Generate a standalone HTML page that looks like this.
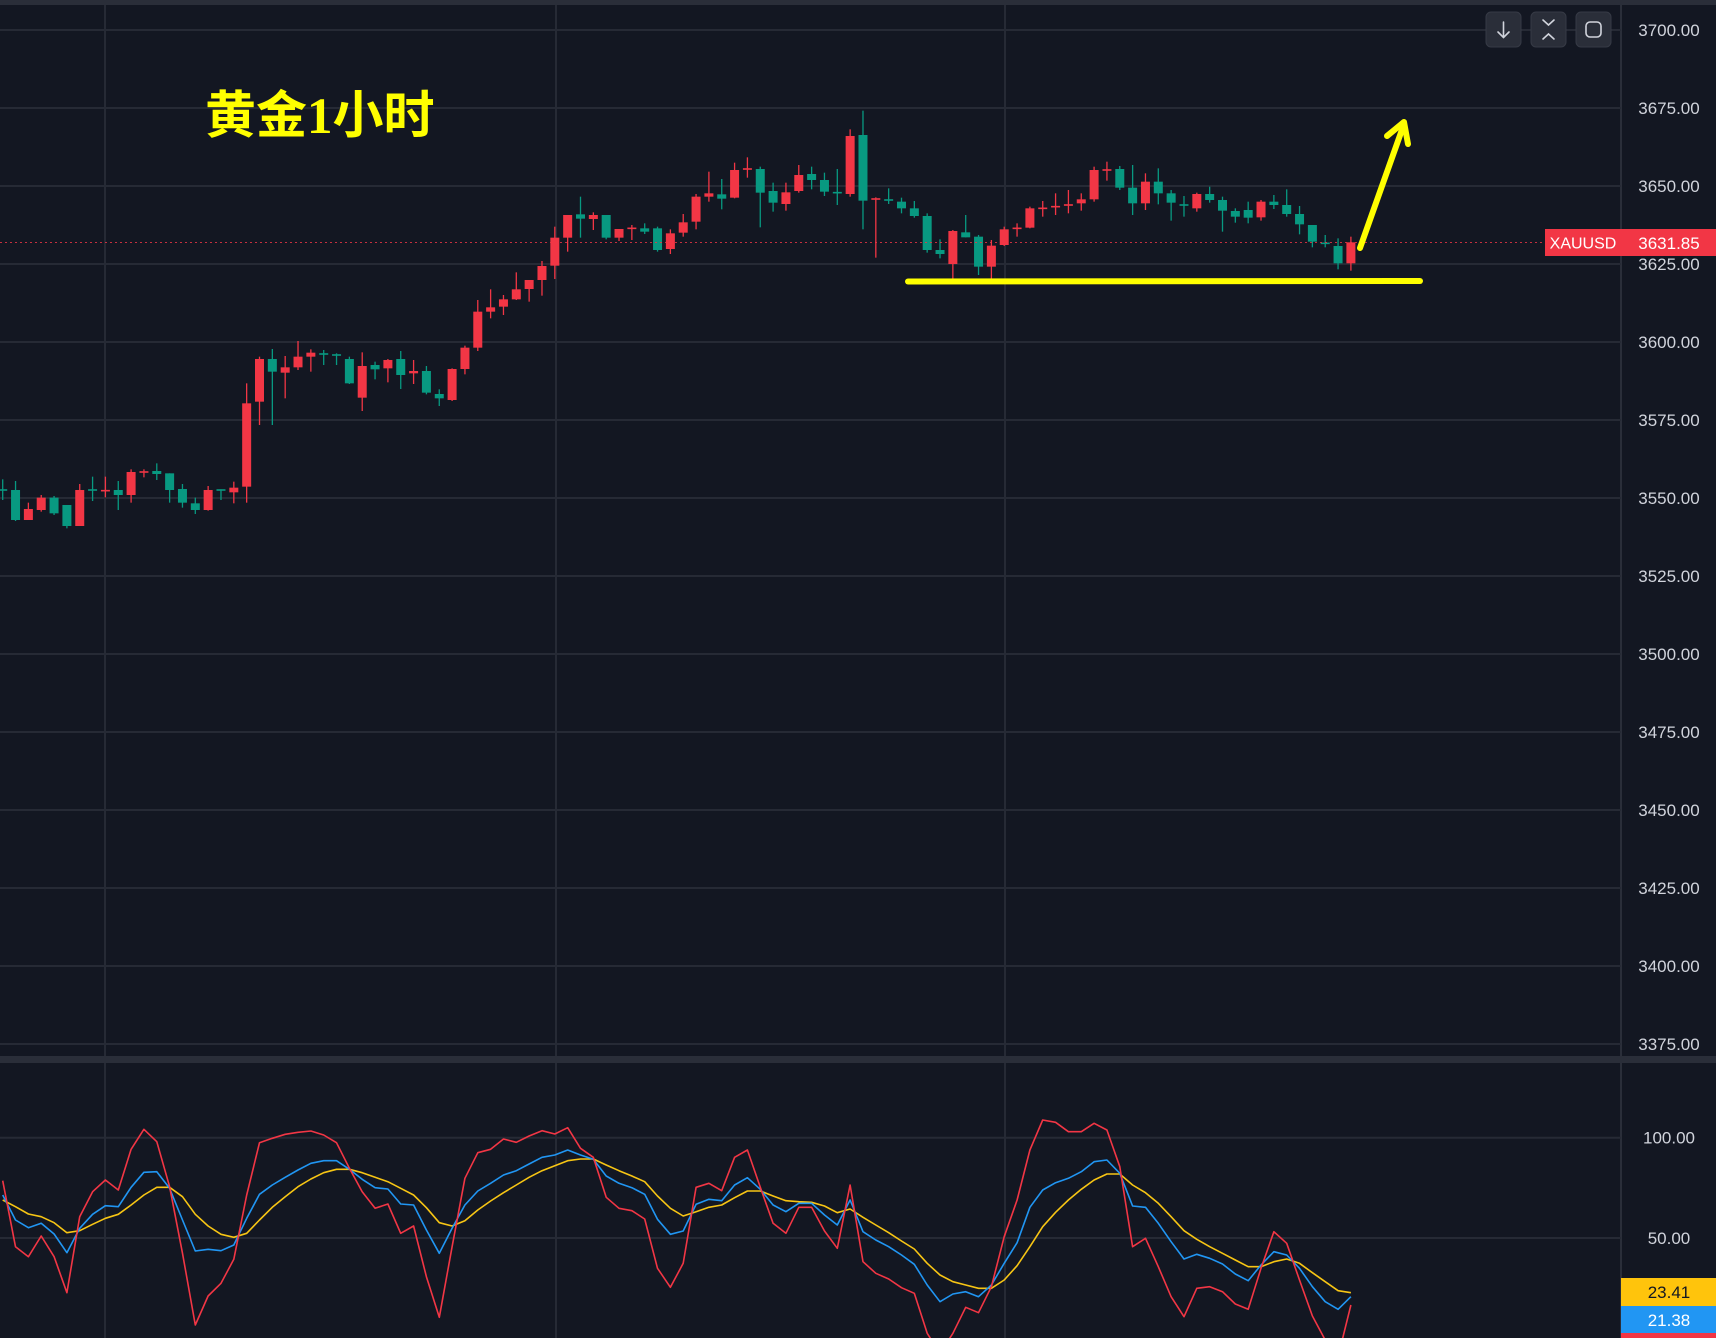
<!DOCTYPE html>
<html><head><meta charset="utf-8"><style>
html,body{margin:0;padding:0;background:#131722;}
svg{display:block}
</style></head><body>
<svg id="s" width="1716" height="1338" xmlns="http://www.w3.org/2000/svg" font-family="Liberation Sans, sans-serif">
<rect width="1716" height="1338" fill="#131722"/>
<rect x="0" y="0" width="1716" height="5" fill="#2a2e39"/>
<rect x="0" y="1056" width="1716" height="7" fill="#2a2e39"/>
<line x1="1621" y1="5" x2="1621" y2="1338" stroke="#2a2e39" stroke-width="2"/>
<g id="grid" stroke="#262a35" stroke-width="2"></g>
<g id="candles"></g>
<line x1="0" y1="242.5" x2="1621" y2="242.5" stroke="#f23645" stroke-width="1" stroke-dasharray="2,3" opacity="0.8"/>
<g id="rsi" fill="none" stroke-width="1.6" stroke-linejoin="round"></g>
<text x="205" y="133" font-family="Liberation Serif, 'Noto Sans CJK SC', sans-serif" font-weight="bold" font-size="51" fill="#ffff00">黄金1小时</text>
<g stroke="#ffff00" stroke-width="6" stroke-linecap="round" fill="none">
<line x1="908" y1="281.5" x2="1420" y2="281"/>
<line x1="1360" y1="248" x2="1404" y2="124"/>
<polyline points="1387,136 1404,122 1408,144" stroke-linejoin="round"/>
</g>
<g id="axis" font-size="17" fill="#d1d4dc"></g>
<rect x="1545" y="229" width="76" height="27" fill="#f23645"/>
<text x="1583" y="248.5" font-size="16" fill="#fff" text-anchor="middle">XAUUSD</text>
<rect x="1621" y="229" width="95" height="27" fill="#f23645"/>
<text x="1669" y="249" font-size="17" fill="#fff" text-anchor="middle">3631.85</text>
<rect x="1621" y="1278" width="95" height="28" fill="#ffc40c"/>
<text x="1669" y="1298" font-size="17" fill="#131722" text-anchor="middle">23.41</text>
<rect x="1621" y="1306" width="95" height="27" fill="#2196f3"/>
<text x="1669" y="1326" font-size="17" fill="#fff" text-anchor="middle">21.38</text>
<rect x="1621" y="1333" width="95" height="5" fill="#f23645"/>
<g fill="#2a2e39" stroke="#363a45">
<rect x="1486" y="12" width="35" height="35" rx="5"/>
<rect x="1531" y="12" width="35" height="35" rx="5"/>
<rect x="1576" y="12" width="35" height="35" rx="5"/>
</g>
<g stroke="#d1d4dc" stroke-width="1.6" fill="none" stroke-linecap="round">
<line x1="1503.5" y1="22" x2="1503.5" y2="37"/><polyline points="1498,32 1503.5,37.5 1509,32"/>
<polyline points="1543,20 1548.5,25 1554,20"/><polyline points="1543,39 1548.5,34 1554,39"/>
<rect x="1586" y="22" width="15" height="15" rx="4"/>
</g>
</svg>
<script>
const NS="http://www.w3.org/2000/svg";
function el(p,t,a){const e=document.createElementNS(NS,t);for(const k in a)e.setAttribute(k,a[k]);p.appendChild(e);return e;}
const grid=document.getElementById('grid');
for(let i=0;i<14;i++){const y=30+i*78;el(grid,'line',{x1:0,y1:y,x2:1621,y2:y});}
[1137.7,1238].forEach(y=>el(grid,'line',{x1:0,y1:y,x2:1621,y2:y}));
[105,556,1005].forEach(x=>{el(grid,'line',{x1:x,y1:5,x2:x,y2:1056});el(grid,'line',{x1:x,y1:1063,x2:x,y2:1338});});
const ax=document.getElementById('axis');
for(let i=0;i<14;i++){const v=3700-25*i;if(v===3625)continue;const t=el(ax,'text',{x:1669,y:30+i*78+6,'text-anchor':'middle'});t.textContent=v.toFixed(2);}
{const t=el(ax,'text',{x:1669,y:270,'text-anchor':'middle'});t.textContent='3625.00';}
[[1137.7,'100.00'],[1238,'50.00']].forEach(([y,s])=>{const t=el(ax,'text',{x:1669,y:y+6,'text-anchor':'middle'});t.textContent=s;});
const A=`g 509 511 478 540
g 510 600 483 603
r 567 600 548 600
r 533 570 525 575
g 533 580 528 585
g 555 618 555 625
r 510 618 492 618
g 509 511 470 543
r 511 513 470 532
g 510 525 483 570
r 456 525 448 548
r 455 457 448 472
g 453 462 430 480
g 460 510 460 548
g 507 548 492 563
g 550 570 533 582
r 510 570 498 572
g 509 511 508 540
r 503 517 485 550
r 250 500 190 548
r 117 245 110 315
g 117 155 87 315
r 142 158 108 235
r 110 142 63 150
r 98 110 88 155
g 101 103 90 135
g 104 106 100 135
g 117 190 110 192
r 138 233 97 273
g 135 148 125 178
r 120 145 117 187
g 117 165 93 207
r 153 160 120 192
g 153 218 138 223
g 222 235 208 258
r 147 240 145 243
r 83 147 77 163`;
const B=`r 635 743 600 753
r 622 635 568 655
r 598 620 585 645
r 568 598 517 600
r 540 567 540 605
r 498 540 483 587
r 413 497 380 537
r 345 413 345 455
g 343 356 290 413
r 345 357 337 390
g 345 413 345 418
r 387 413 387 423
r 384 386 375 420
g 385 395 370 402
g 385 450 380 455
r 400 447 388 462
r 367 398 342 410
r 290 365 282 388
r 280 290 215 305
g 283 296 237 328
r 210 293 188 295
r 206 208 172 233
g 207 278 200 382
g 273 308 248 335
r 277 312 248 332
r 225 273 195 278
g 222 240 200 268
g 240 275 218 288
g 277 279 207 315
r 108 282 88 290
g 105 302 32 388
r 296 298 292 473
g 299 301 265 312
g 305 325 293 340
g 325 348 303 353
g 348 450 340 458
g 450 462 418 475
r 393 492 390 540
g 397 412 345 412
g 410 500 405 525
r 437 500 420 540`;
const D=`r 268 315 260 318
r 264 266 250 290
r 205 263 200 265
r 204 206 183 230
r 199 201 160 225
r 194 196 150 220
r 178 190 160 212
r 90 178 80 185
r 89 91 65 122
g 87 143 78 150
g 143 190 75 225
r 125 190 100 210
g 125 160 85 193
g 160 188 150 242
g 194 196 168 230
r 162 205 158 215
g 162 180 140 188
g 180 212 170 275
g 213 230 205 248
g 210 233 185 250
r 185 232 180 242
g 185 195 165 207
g 195 222 148 230
g 222 253 198 283
g 255 305 255 322
g 309 311 285 322
g 318 370 295 388
r 307 370 290 392`;
const cg=document.getElementById('candles');
let idx=0;
function draw(txt,off){txt.trim().split('\n').forEach(l=>{const p=l.trim().split(/\s+/);const c=p[0]=='r'?'#f23645':'#089981';
const v=p.slice(1).map(n=>off+(+n)/3);const x=2.7+12.84*idx;
el(cg,'line',{x1:x,y1:v[2],x2:x,y2:v[3],stroke:c,'stroke-width':1.3});
let h=v[1]-v[0];let y=v[0];if(h<1.6){y=(v[0]+v[1])/2-0.8;h=1.6;}
el(cg,'rect',{x:x-4.5,y:y,width:9,height:h,fill:c});idx++;});}
draw(A,320);draw(B,100);draw(D,140);
const R=[242,440,470,408,470,578,350,275,240,270,148,88,125,260,460,675,588,550,478,285,128,115,103,97,93,105,128,205,275,325,312,400,378,530,652,440,235,158,148,117,127,108,92,102,83,145,172,292,325,332,357,505,562,490,262,250,272,172,150,262,370,400,322,322,393,445,255,485,520,537,563,580,700,760,700,622,638,560,410,300,150,60,67,95,95,70,90,200,440,415,500,590,650,565,560,575,612,628,505,395,430,540,648,720,770,615];
const Bl=[285,360,383,370,402,458,385,343,317,320,262,217,215,265,360,453,448,452,435,355,283,255,232,210,190,182,182,208,238,263,267,312,315,390,460,385,315,273,250,225,212,192,172,165,150,165,178,228,250,263,283,358,403,393,313,298,302,255,233,268,315,335,310,310,345,375,300,395,420,440,465,493,555,605,582,575,590,555,490,428,322,270,248,235,215,185,180,220,318,322,370,425,477,463,475,492,522,542,495,455,465,505,560,605,628,590];
const Y=[300,320,342,350,368,398,392,373,355,343,315,285,262,262,290,343,378,403,412,400,360,322,290,260,237,218,208,208,218,232,245,265,285,323,368,378,362,330,303,278,255,232,212,197,182,177,177,195,212,228,245,288,325,348,335,322,315,293,273,273,288,302,305,307,318,338,327,352,375,398,423,447,490,525,545,555,565,565,540,497,440,380,337,300,268,240,222,222,255,278,310,350,392,418,440,460,480,500,500,485,477,490,518,545,572,578];
const rg=document.getElementById('rsi');
const cp=el(document.getElementById('s'),'clipPath',{id:'cp'});el(cp,'rect',{x:0,y:1063,width:1621,height:275});
rg.setAttribute('clip-path','url(#cp)');
[[Y,'#f7c514'],[Bl,'#2196f3'],[R,'#f23645']].forEach(([a,c])=>{
el(rg,'polyline',{stroke:c,points:a.map((v,i)=>(2.7+12.84*i).toFixed(1)+','+(1100+v/3).toFixed(1)).join(' ')});});
</script>
</body></html>
